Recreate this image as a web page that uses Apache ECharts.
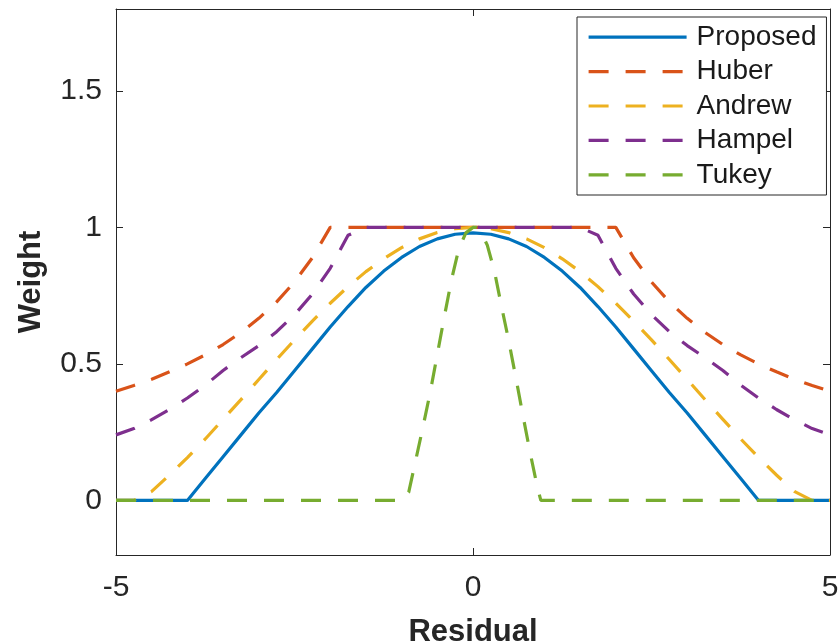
<!DOCTYPE html>
<html>
<head>
<meta charset="utf-8">
<script src="https://cdn.jsdelivr.net/npm/echarts@6/dist/echarts.min.js"></script>
<style>
html,body{margin:0;padding:0;background:#fff;}
#chart{width:838px;height:644px;}
</style>
</head>
<body>
<div id="chart"></div>
<script>
// ---- data ----
var residual = [-5,-4.75,-4.5,-4.25,-4,-3.75,-3.5,-3.25,-3,-2.75,-2.5,-2.25,-2,-1.75,-1.5,-1.25,-1,-0.75,-0.5,-0.25,0,
                0.25,0.5,0.75,1,1.25,1.5,1.75,2,2.25,2.5,2.75,3,3.25,3.5,3.75,4,4.25,4.5,4.75,5];
var proposed = [0,0,0,0,0,0.08,0.16,0.24,0.32,0.395,0.475,0.555,0.635,0.71,0.78,0.84,0.89,0.93,0.958,0.975,0.98,
                0.975,0.958,0.93,0.89,0.84,0.78,0.71,0.635,0.555,0.475,0.395,0.32,0.24,0.16,0.08,0,0,0,0,0];
var huber = [0.4,0.421,0.444,0.471,0.5,0.533,0.571,0.615,0.667,0.727,0.8,0.889,1,1,1,1,1,1,1,1,1,
             1,1,1,1,1,1,1,1,0.889,0.8,0.727,0.667,0.615,0.571,0.533,0.5,0.471,0.444,0.421,0.4];
var andrew = [0,0,0.033,0.093,0.157,0.225,0.297,0.369,0.443,0.516,0.588,0.657,0.722,0.783,0.838,0.885,0.926,0.958,0.981,0.995,1,
              0.995,0.981,0.958,0.926,0.885,0.838,0.783,0.722,0.657,0.588,0.516,0.443,0.369,0.297,0.225,0.157,0.093,0.033,0,0];
var hampel = [0.24,0.263,0.296,0.333,0.375,0.422,0.476,0.523,0.567,0.618,0.68,0.756,0.85,0.971,1,1,1,1,1,1,1,
              1,1,1,1,1,1,0.971,0.85,0.756,0.68,0.618,0.567,0.523,0.476,0.422,0.375,0.333,0.296,0.263,0.24];
var tukeyResidual = [-5,-1,-0.9,-0.8,-0.7,-0.6,-0.5,-0.4,-0.3,-0.2,-0.1,0,0.05,0.1,0.2,0.3,0.4,0.5,0.6,0.7,0.8,0.9,0.95,5];
var tukey = [0,0,0.03,0.15,0.27,0.395,0.535,0.675,0.81,0.92,0.98,1,1,0.99,0.935,0.84,0.71,0.585,0.45,0.31,0.175,0.05,0,0];

var seriesNames = ['Proposed','Huber','Andrew','Hampel','Tukey'];
var xTicks = [-5,0,5];
var yTicks = [0,0.5,1,1.5];

function pairs(xs, ys){ return xs.map(function(x,i){ return [x, ys[i]]; }); }

var FONT = '"Liberation Sans", Arial, Helvetica, sans-serif';
var AX = '#262626';
var DASH = [20,17];

var chart = echarts.init(document.getElementById('chart'), null, {renderer:'canvas'});

function mkSeries(name, xs, ys, color, dashed){
  return {
    name: name, type: 'line', data: pairs(xs, ys),
    showSymbol: false, symbol: 'none', smooth: false, animation: false,
    lineStyle: {color: color, width: 3.2, type: dashed ? DASH : 'solid', cap: 'butt'},
    itemStyle: {color: color},
    clip: true
  };
}

var option = {
  backgroundColor: '#fff',
  animation: false,
  grid: {left: 116, right: 8, top: 9, bottom: 89, containLabel: false, outerBoundsMode: 'none'},
  xAxis: [{
    type: 'value', min: -5, max: 5, interval: 5, position: 'bottom',
    name: 'Residual', nameLocation: 'middle', nameGap: 62,
    nameTextStyle: {fontFamily: FONT, fontSize: 31, fontWeight: 'bold', color: AX},
    axisLine: {show: true, onZero: false, lineStyle: {color: AX, width: 1}},
    axisTick: {show: true, inside: true, length: 7, customValues: xTicks, lineStyle: {color: AX, width: 1}},
    axisLabel: {fontFamily: FONT, fontSize: 30, color: AX, margin: 18, customValues: xTicks},
    splitLine: {show: false}
  },{
    type: 'value', min: -5, max: 5, interval: 5, position: 'top',
    axisLine: {show: true, onZero: false, lineStyle: {color: AX, width: 1}},
    axisTick: {show: true, inside: true, length: 7, customValues: xTicks, lineStyle: {color: AX, width: 1}},
    axisLabel: {show: false}, splitLine: {show: false}
  }],
  yAxis: [{
    type: 'value', min: -0.2, max: 1.8, position: 'left',
    name: 'Weight', nameLocation: 'middle', nameGap: 69, nameRotate: 90,
    nameTextStyle: {fontFamily: FONT, fontSize: 31, fontWeight: 'bold', color: AX},
    axisLine: {show: true, onZero: false, lineStyle: {color: AX, width: 1}},
    axisTick: {show: true, inside: true, length: 7, customValues: yTicks, lineStyle: {color: AX, width: 1}},
    axisLabel: {fontFamily: FONT, fontSize: 30, color: AX, margin: 14, customValues: yTicks},
    splitLine: {show: false}
  },{
    type: 'value', min: -0.2, max: 1.8, position: 'right',
    axisLine: {show: true, onZero: false, lineStyle: {color: AX, width: 1}},
    axisTick: {show: true, inside: true, length: 7, customValues: yTicks, lineStyle: {color: AX, width: 1}},
    axisLabel: {show: false, customValues: yTicks}, splitLine: {show: false}
  }],
  legend: {
    data: seriesNames,
    orient: 'vertical', left: 577, top: 17,
    padding: [3, 10, 3, 10], itemGap: 0,
    itemWidth: 98, itemHeight: 14,
    backgroundColor: '#fff', borderColor: AX, borderWidth: 1,
    itemStyle: {color: 'rgba(0,0,0,0)', borderWidth: 0, opacity: 0},
    lineStyle: {width: 3.2},
    textStyle: {fontFamily: FONT, fontSize: 28, color: '#1a1a1a', lineHeight: 34.4, padding: [0,0,0,5]},
    selectedMode: false
  },
  series: [
    mkSeries(seriesNames[0], residual, proposed, '#0072BD', false),
    mkSeries(seriesNames[1], residual, huber, '#D95319', true),
    mkSeries(seriesNames[2], residual, andrew, '#EDB120', true),
    mkSeries(seriesNames[3], residual, hampel, '#7E2F8E', true),
    mkSeries(seriesNames[4], tukeyResidual, tukey, '#77AC30', true)
  ]
};
chart.setOption(option);
</script>
</body>
</html>
